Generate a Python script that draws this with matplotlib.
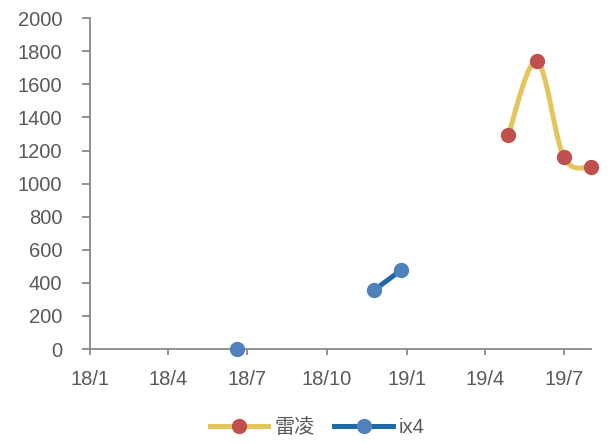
import matplotlib.pyplot as plt
import matplotlib.dates as mdates
import numpy as np
import pandas as pd

plt.rcParams["font.family"] = ["Liberation Sans", "Noto Sans CJK SC", "DejaVu Sans"]

# 雷凌 数据
leiling_dates = ["2019-04-28", "2019-05-31", "2019-07-01", "2019-08-01"]
leiling_values = [1295, 1740, 1160, 1100]

# ix4 数据
ix4_dates = ["2018-06-20", "2018-11-24", "2018-12-25"]
ix4_values = [0, 355, 475]
ix4_segments = [[0], [1, 2]]  # 断开的线段

y_ticks = list(range(0, 2001, 200))
x_start, x_end = "2018-01-01", "2019-08-01"

grey = "#898989"
text_color = "#595959"
yellow = "#E3C55C"
red = "#C0504D"
blue_line = "#1F6AA5"
blue_dot = "#4F81BD"


def smooth_curve(ax, xs, ys, n=40):
    """Excel 风格的平滑曲线（在像素坐标中做 Bezier）"""
    pts = ax.transData.transform(np.column_stack([xs, ys]))
    out = []
    for i in range(len(pts) - 1):
        p0 = pts[max(i - 1, 0)]
        p1 = pts[i]
        p2 = pts[i + 1]
        p3 = pts[min(i + 2, len(pts) - 1)]
        c1 = p1 + (p2 - p0) / 6
        c2 = p2 - (p3 - p1) / 6
        t = np.linspace(0, 1, n)[:, None]
        seg = (1 - t) ** 3 * p1 + 3 * (1 - t) ** 2 * t * c1 + 3 * (1 - t) * t ** 2 * c2 + t ** 3 * p2
        out.append(seg)
    return ax.transData.inverted().transform(np.vstack(out))


fig = plt.figure(figsize=(6.16, 4.43), dpi=100)
ax = fig.add_axes([0.146, 0.212, 0.813, 0.747])

ax.set_xlim(pd.Timestamp(x_start), pd.Timestamp(x_end))
ax.set_ylim(0, 2000)

lx = mdates.date2num(pd.to_datetime(leiling_dates))
curve = smooth_curve(ax, lx, np.array(leiling_values, dtype=float))
ax.plot(curve[:, 0], curve[:, 1], color=yellow, lw=3.6, solid_capstyle="round", clip_on=False, zorder=2)
ax.plot(lx, leiling_values, "o", color=red, ms=10, clip_on=False, zorder=3)

ix = mdates.date2num(pd.to_datetime(ix4_dates))
for seg in ix4_segments:
    ax.plot(ix[seg], np.array(ix4_values)[seg], color=blue_line, lw=3.6, zorder=2, clip_on=False)
ax.plot(ix, ix4_values, "o", color=blue_dot, ms=10, clip_on=False, zorder=3)

# 图例
ax.plot([], [], color=yellow, lw=3.6, marker="o", mfc=red, mec=red, ms=10, label="雷凌")
ax.plot([], [], color=blue_line, lw=3.6, marker="o", mfc=blue_dot, mec=blue_dot, ms=10, label="ix4")
handles, labels = ax.get_legend_handles_labels()
fig.legend(handles[-2:], labels[-2:], loc="center", bbox_to_anchor=(0.515, 0.035), ncol=2,
           frameon=False, fontsize=14.5, handlelength=2.9, columnspacing=1.0, handletextpad=0.3,
           labelcolor=text_color)

ax.xaxis.set_major_locator(mdates.MonthLocator(bymonth=[1, 4, 7, 10]))
ax.xaxis.set_major_formatter(mdates.DateFormatter("%y/%-m"))
ax.set_yticks(y_ticks)

for side in ["top", "right"]:
    ax.spines[side].set_visible(False)
for side in ["left", "bottom"]:
    ax.spines[side].set_color(grey)
    ax.spines[side].set_linewidth(1.3)
ax.tick_params(axis="y", length=6, width=1.3, color=grey, pad=14, labelsize=14.5, labelcolor=text_color)
ax.tick_params(axis="x", length=4, width=1.3, color=grey, pad=11, labelsize=14.5, labelcolor=text_color)

fig.savefig("out.png", dpi=100)
